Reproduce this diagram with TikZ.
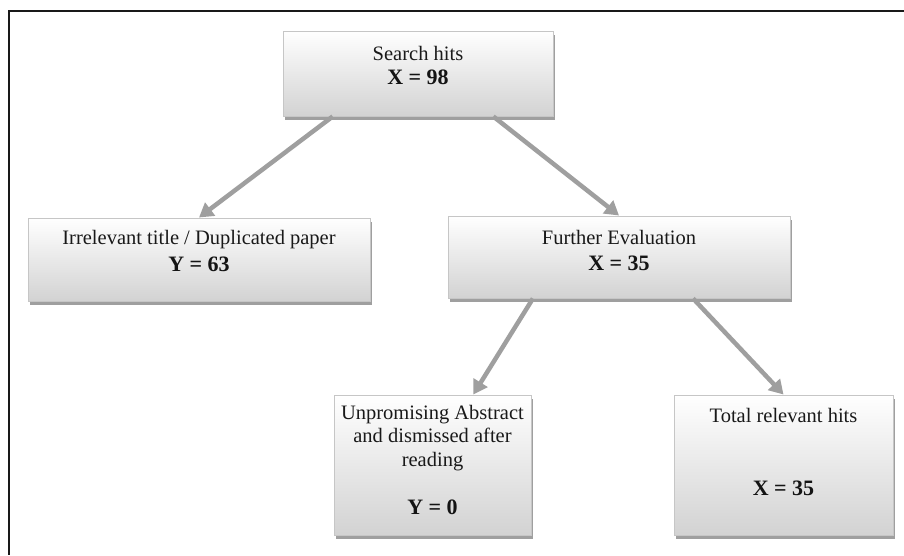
\documentclass[tikz,border=0pt]{standalone}
\usepackage{fontspec}
\setmainfont{Liberation Serif}
\usetikzlibrary{arrows.meta,shadows,calc}
\begin{document}
\begin{tikzpicture}[x=1pt,y=-1pt,
  box/.style={draw=gray!45, line width=1pt, top color=white, bottom color=gray!35,
    drop shadow={shadow xshift=2pt, shadow yshift=-3.5pt, fill=gray!75, opacity=1},
    inner sep=0pt, rectangle},
  txt/.style={font=\fontsize{20.5}{23.5}\selectfont, inner sep=0pt, text=black!90},
  btxt/.style={font=\fontsize{22}{24}\selectfont\bfseries, inner sep=0pt, text=black!92},
  arr/.style={draw=gray!75, line width=4.5pt, -{Triangle[length=14pt,width=16pt]}}]
\useasboundingbox (0,0) rectangle (904,555);
\draw[line width=2.5pt, black!90] (904,11) -- (9,11) -- (9,555);
% boxes
\node[box, minimum width=270pt, minimum height=85pt] (a) at (418,73.5) {};
\node[box, minimum width=342pt, minimum height=83pt] (b) at (199,259.5) {};
\node[box, minimum width=342pt, minimum height=82pt] (c) at (619,257) {};
\node[box, minimum width=197pt, minimum height=140pt] (d) at (432.5,465) {};
\node[box, minimum width=219pt, minimum height=140pt] (e) at (783.5,465) {};
% texts
\node[txt] (a1) at (418,53) {Search hits};
\node[btxt] (a2) at (418,77) {X = 98};
\node[txt] (b1) at (199,240) {Irrelevant title / Duplicated paper};
\node[btxt] (b2) at (199,264) {Y = 63};
\node[txt] (c1) at (619,237) {Further Evaluation};
\node[btxt] (c2) at (619,263) {X = 35};
\node[txt, align=center] (d1) at (432.5,438) {Unpromising Abstract\\and dismissed after\\reading};
\node[btxt] (d2) at (432.5,507) {Y = 0};
\node[txt] (e1) at (783.5,415) {Total relevant hits};
\node[btxt] (e2) at (783.5,488) {X = 35};
% arrows
\draw[arr] ($(a.south west)!0.185!(a.south east)$) -- (b.north);
\draw[arr] ($(a.south west)!0.778!(a.south east)$) -- (c.north);
\draw[arr] ($(c.south west)!0.249!(c.south east)$) -- ($(d.north west)!0.706!(d.north east)$);
\draw[arr] ($(c.south west)!0.716!(c.south east)$) -- (e.north);
\end{tikzpicture}
\end{document}
